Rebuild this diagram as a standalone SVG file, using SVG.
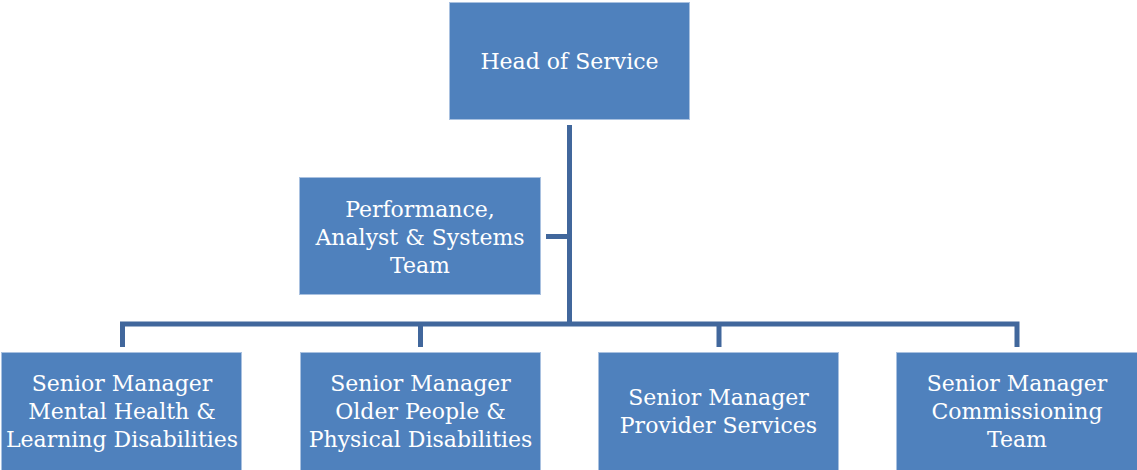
<svg xmlns="http://www.w3.org/2000/svg" width="1137" height="470" viewBox="0 0 1137 470">
  <style>
    .box { fill: #4F81BD; stroke: #A9C1E0; stroke-width: 1; }
    .lbl { fill: #FFFFFF; font-family: "DejaVu Serif", "Liberation Serif", serif; font-size: 22px; text-anchor: middle; }
    .wire { fill: none; stroke: #41679C; stroke-width: 5; stroke-linecap: butt; }
  </style>
  <rect width="1137" height="470" fill="#FFFFFF"/>

  <!-- connectors -->
  <g id="connectors">
    <path class="wire" d="M569.5 125 V324"/>
    <path class="wire" d="M546 236.5 H569.5"/>
    <path class="wire" d="M122.5 347 V324 H1017 V347"/>
    <path class="wire" d="M420.5 324 V347"/>
    <path class="wire" d="M719 324 V347"/>
  </g>

  <g id="head">
    <rect class="box" x="449.5" y="2.5" width="240" height="117"/>
    <text class="lbl" x="569.5" y="69">Head of Service</text>
  </g>

  <g id="performance">
    <rect class="box" x="299.5" y="177.5" width="241" height="117"/>
    <text class="lbl" x="420" y="217">Performance,</text>
    <text class="lbl" x="420" y="245">Analyst &amp; Systems</text>
    <text class="lbl" x="420" y="273">Team</text>
  </g>

  <g id="mental-health">
    <rect class="box" x="1.5" y="352.5" width="240" height="118"/>
    <text class="lbl" x="122" y="391">Senior Manager</text>
    <text class="lbl" x="122" y="419">Mental Health &amp;</text>
    <text class="lbl" x="122" y="447">Learning Disabilities</text>
  </g>

  <g id="older-people">
    <rect class="box" x="300.5" y="352.5" width="240" height="118"/>
    <text class="lbl" x="420.5" y="391">Senior Manager</text>
    <text class="lbl" x="420.5" y="419">Older People &amp;</text>
    <text class="lbl" x="420.5" y="447">Physical Disabilities</text>
  </g>

  <g id="provider">
    <rect class="box" x="598.5" y="352.5" width="240" height="118"/>
    <text class="lbl" x="718.5" y="405">Senior Manager</text>
    <text class="lbl" x="718.5" y="433">Provider Services</text>
  </g>

  <g id="commissioning">
    <rect class="box" x="896.5" y="352.5" width="241" height="118"/>
    <text class="lbl" x="1017" y="391">Senior Manager</text>
    <text class="lbl" x="1017" y="419">Commissioning</text>
    <text class="lbl" x="1017" y="447">Team</text>
  </g>
</svg>
